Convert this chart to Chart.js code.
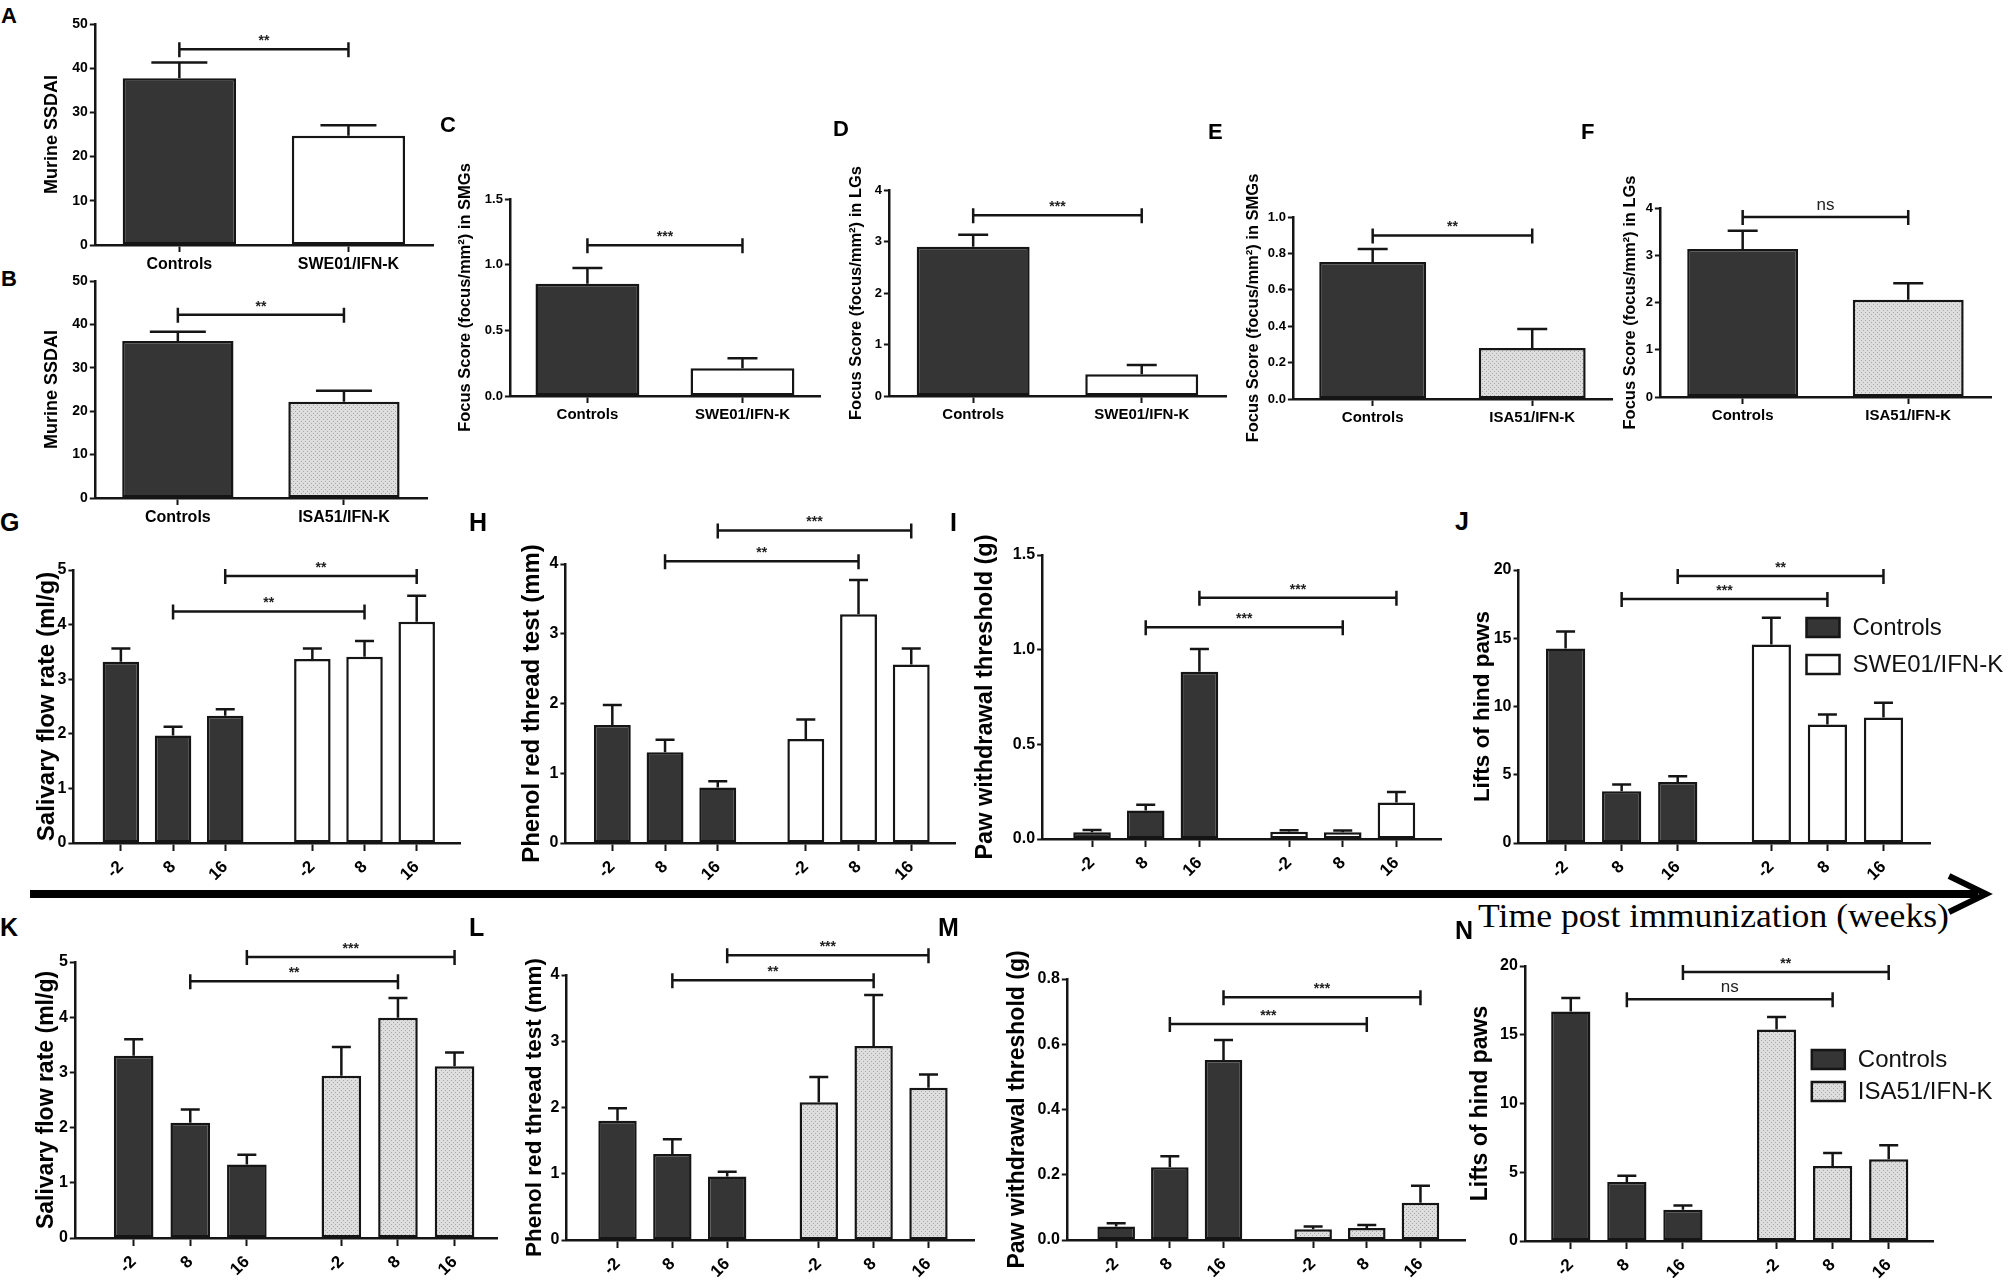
<!DOCTYPE html>
<html>
<head>
<meta charset="utf-8">
<script src="https://cdn.jsdelivr.net/npm/chart.js@4.4.1/dist/chart.umd.min.js"></script>
<style>
  body { margin: 0; background: #fff; width: 2008px; height: 1286px; position: relative; overflow: hidden; }
  canvas { position: absolute; }
  .letter { position: absolute; font-family: "Liberation Sans", Arial, sans-serif; font-weight: bold; line-height: 1; color: #000; }
  #timeLabel { position: absolute; left: 1478px; top: 900px; font: 33px "Liberation Serif", "Times New Roman", serif; line-height: 1; white-space: nowrap; transform-origin: 0 0; }
  #arrow { position: absolute; left: 0; top: 0; }
</style>
</head>
<body>
<svg id="arrow" width="2008" height="1286">
  <line x1="30" y1="894" x2="1978" y2="894" stroke="#000" stroke-width="8"/>
  <polyline points="1949,876 1986,894 1949,912" fill="none" stroke="#000" stroke-width="6"/>
</svg>
<div id="timeLabel">Time post immunization (weeks)</div>

<script>
// ---- categories / series names ----
const groupsSwe = ['Controls', 'SWE01/IFN-K'];
const groupsIsa = ['Controls', 'ISA51/IFN-K'];
const weeks = ['-2', '8', '16'];

// ---- A / B: Murine SSDAI (mean, SEM) ----
const ssdaiSwe = [37.7, 24.7];
const ssdaiSweSem = [3.6, 2.4];
const ssdaiIsa = [36.2, 22.2];
const ssdaiIsaSem = [2.1, 2.5];

// ---- C-F: focus scores ----
const focusSmgSwe = [0.855, 0.211];
const focusSmgSweSem = [0.12, 0.077];
const focusLgSwe = [2.9, 0.42];
const focusLgSweSem = [0.23, 0.18];
const focusSmgIsa = [0.753, 0.28];
const focusSmgIsaSem = [0.071, 0.105];
const focusLgIsa = [3.13, 2.06];
const focusLgIsaSem = [0.39, 0.35];

// ---- G-J: SWE01/IFN-K time course (weeks -2, 8, 16) ----
const flowCtrlG = [3.32, 1.97, 2.33];
const flowCtrlGSem = [0.24, 0.16, 0.12];
const flowSwe = [3.37, 3.41, 4.05];
const flowSweSem = [0.19, 0.29, 0.48];

const phenolCtrlH = [1.69, 1.30, 0.795];
const phenolCtrlHSem = [0.29, 0.18, 0.09];
const phenolSwe = [1.49, 3.28, 2.56];
const phenolSweSem = [0.28, 0.49, 0.23];

const pawCtrlI = [0.035, 0.151, 0.884];
const pawCtrlISem = [0.012, 0.03, 0.12];
const pawSwe = [0.038, 0.036, 0.193];
const pawSweSem = [0.008, 0.009, 0.055];

const liftsCtrlJ = [14.25, 3.79, 4.47];
const liftsCtrlJSem = [1.25, 0.49, 0.42];
const liftsSwe = [14.55, 8.68, 9.19];
const liftsSweSem = [1.95, 0.73, 1.08];

// ---- K-N: ISA51/IFN-K time course ----
const flowCtrlK = [3.30, 2.09, 1.33];
const flowCtrlKSem = [0.30, 0.24, 0.18];
const flowIsa = [2.94, 3.99, 3.11];
const flowIsaSem = [0.52, 0.36, 0.25];

const phenolCtrlL = [1.80, 1.30, 0.96];
const phenolCtrlLSem = [0.19, 0.22, 0.07];
const phenolIsa = [2.08, 2.93, 2.30];
const phenolIsaSem = [0.38, 0.77, 0.20];

const pawCtrlM = [0.041, 0.223, 0.552];
const pawCtrlMSem = [0.01, 0.034, 0.061];
const pawIsa = [0.033, 0.037, 0.114];
const pawIsaSem = [0.008, 0.009, 0.052];

const liftsCtrlN = [16.7, 4.29, 2.28];
const liftsCtrlNSem = [0.97, 0.46, 0.31];
const liftsIsa = [15.39, 5.45, 5.94];
const liftsIsaSem = [0.9, 0.95, 1.02];

// ---- significance brackets: [from bar, to bar, level, label] ----
const sigA = [[0, 1, 44.3, '**']];
const sigB = [[0, 1, 42.2, '**']];
const sigC = [[0, 1, 1.148, '***']];
const sigD = [[0, 1, 3.51, '***']];
const sigE = [[0, 1, 0.899, '**']];
const sigF = [[0, 1, 3.81, 'ns']];
const sigG = [[1, 4, 4.24, '**'], [2, 5, 4.89, '**']];
const sigH = [[1, 4, 4.04, '**'], [2, 5, 4.48, '***']];
const sigI = [[1, 4, 1.118, '***'], [2, 5, 1.274, '***']];
const sigJ = [[1, 4, 17.87, '***'], [2, 5, 19.56, '**']];
const sigK = [[1, 4, 4.65, '**'], [2, 5, 5.09, '***']];
const sigL = [[1, 4, 3.92, '**'], [2, 5, 4.30, '***']];
const sigM = [[1, 4, 0.662, '***'], [2, 5, 0.744, '***']];
const sigN = [[1, 4, 17.58, 'ns'], [2, 5, 19.56, '**']];

// ---- styling ----
const SANS = '"Liberation Sans", Arial, Helvetica, sans-serif';
const INK = '#151515';
const DARK = '#353535';
const GROUP_STEP = 3.67;

function stipple() {
  const c = document.createElement('canvas');
  c.width = c.height = 4;
  const g = c.getContext('2d');
  g.fillStyle = '#dedede';
  g.fillRect(0, 0, 4, 4);
  g.fillStyle = '#a6a6a6';
  g.fillRect(0, 0, 1, 1);
  g.fillRect(2, 2, 1, 1);
  return g.createPattern(c, 'repeat');
}
const DOTS = stipple();

// error bars (upper SEM only, like Prism)
const errorBars = {
  id: 'errorBars',
  afterDatasetsDraw(chart, args, opts) {
    const ctx = chart.ctx, y = chart.scales.y;
    ctx.save();
    ctx.strokeStyle = INK;
    ctx.lineWidth = 2.5;
    chart.data.datasets.forEach((ds, di) => {
      chart.getDatasetMeta(di).data.forEach((bar, i) => {
        const raw = ds.data[i];
        const v = typeof raw === 'object' ? raw.y : raw;
        const top = y.getPixelForValue(v + ds.sem[i]);
        ctx.beginPath();
        ctx.moveTo(bar.x, bar.y);
        ctx.lineTo(bar.x, top);
        ctx.moveTo(bar.x - opts.cap / 2, top);
        ctx.lineTo(bar.x + opts.cap / 2, top);
        ctx.stroke();
      });
    });
    ctx.restore();
  }
};

// significance brackets
const sigBrackets = {
  id: 'sigBrackets',
  afterDatasetsDraw(chart, args, opts) {
    const ctx = chart.ctx, y = chart.scales.y;
    const bars = [];
    chart.data.datasets.forEach((ds, di) => chart.getDatasetMeta(di).data.forEach(b => bars.push(b)));
    ctx.save();
    ctx.strokeStyle = INK;
    ctx.fillStyle = '#222';
    ctx.lineWidth = 2.5;
    ctx.textAlign = 'center';
    ctx.textBaseline = 'bottom';
    (opts.list || []).forEach(([a, b, level, label]) => {
      const x1 = bars[a].x, x2 = bars[b].x, py = y.getPixelForValue(level);
      ctx.beginPath();
      ctx.moveTo(x1, py); ctx.lineTo(x2, py);
      ctx.moveTo(x1, py - 7); ctx.lineTo(x1, py + 8);
      ctx.moveTo(x2, py - 7); ctx.lineTo(x2, py + 8);
      ctx.stroke();
      ctx.font = label === 'ns' ? '17px ' + SANS : 'bold 14px ' + SANS;
      ctx.fillText(label, (x1 + x2) / 2, py - (label === 'ns' ? 3 : 1));
    });
    ctx.restore();
  }
};

// boxed legend drawn inside the plot (J, N)
const boxLegend = {
  id: 'boxLegend',
  afterDraw(chart, args, opts) {
    if (!opts.show) return;
    const ctx = chart.ctx, area = chart.chartArea;
    ctx.save();
    ctx.font = '24px ' + SANS;
    ctx.textBaseline = 'middle';
    chart.data.datasets.forEach((ds, i) => {
      const bx = area.left + opts.dx, by = area.top + opts.dy + i * opts.row;
      ctx.fillStyle = ds.backgroundColor;
      ctx.fillRect(bx, by, 33, 19);
      ctx.strokeStyle = INK;
      ctx.lineWidth = 2.5;
      ctx.strokeRect(bx, by, 33, 19);
      ctx.fillStyle = '#111';
      ctx.fillText(ds.label, bx + 46, by + 10);
    });
    ctx.restore();
  }
};

function drawPanel(p) {
  const [l, t, r, b] = p.rect;
  const W = p.titleGap + p.titleSize * 0.6;
  const T = 60, R = p.right || 12, B = p.bottom;
  const w = Math.round(W + r - l + R), h = Math.round(T + b - t + B);
  const cv = document.createElement('canvas');
  cv.width = w; cv.height = h;
  Object.assign(cv.style, { left: (l - W) + 'px', top: (t - T) + 'px', width: w + 'px', height: h + 'px' });
  document.body.appendChild(cv);

  const axisLine = { display: true, color: INK, width: 2.5 };
  let labels, datasets, x;
  if (p.series) {
    const pos = [];
    p.series.forEach((s, g) => weeks.forEach((wk, i) => pos.push(g * GROUP_STEP + i)));
    datasets = p.series.map((name, g) => ({
      label: name,
      data: p.values[g].map((v, i) => ({ x: g * GROUP_STEP + i, y: v })),
      sem: p.sems[g],
      backgroundColor: p.fills[g],
      borderColor: INK, borderWidth: 2.5, borderSkipped: false,
      grouped: false, barPercentage: 0.7, categoryPercentage: 1
    }));
    x = {
      type: 'linear', min: p.xMin, max: p.xMax, offset: false,
      afterBuildTicks: s => { s.ticks = pos.map(v => ({ value: v })); },
      ticks: { callback: (v, i) => weeks[i % weeks.length], minRotation: 45, maxRotation: 45, autoSkip: false,
               padding: 6, color: '#000', font: { family: SANS, weight: 'bold', size: 17 } },
      grid: { display: true, drawOnChartArea: false, offset: false, tickLength: 8, tickWidth: 2, tickColor: INK },
      border: axisLine,
      afterFit: s => { s.height = 70; }
    };
  } else {
    labels = p.groups;
    datasets = [{
      label: p.title, data: p.values, sem: p.sems, backgroundColor: p.fills,
      borderColor: INK, borderWidth: 2.5, borderSkipped: false,
      barPercentage: 0.67, categoryPercentage: 1
    }];
    x = {
      type: 'category', offset: true,
      ticks: { maxRotation: 0, autoSkip: false, padding: 3, color: '#000', font: { family: SANS, weight: 'bold', size: p.catSize } },
      grid: { display: true, drawOnChartArea: false, offset: false, tickLength: 7, tickWidth: 2, tickColor: INK },
      border: axisLine,
      afterFit: s => { s.height = 40; }
    };
  }

  new Chart(cv, {
    type: 'bar',
    data: { labels, datasets },
    options: {
      responsive: false, animation: false, devicePixelRatio: 1, events: [],
      layout: { padding: { top: T, right: R, left: 0, bottom: B - (p.series ? 70 : 40) } },
      plugins: {
        legend: { display: false }, tooltip: { enabled: false },
        errorBars: { cap: p.cap },
        sigBrackets: { list: p.sig },
        boxLegend: p.legend || { show: false }
      },
      scales: {
        x,
        y: {
          min: 0, max: p.yMax,
          ticks: { stepSize: p.yStep, padding: 2, color: '#000',
                   font: { family: SANS, weight: 'bold', size: p.tickSize },
                   callback: v => Number(v).toFixed(p.dec) },
          grid: { display: true, drawOnChartArea: false, tickLength: 5, tickWidth: 2, tickColor: INK },
          border: axisLine,
          title: { display: true, text: p.title, color: '#000', padding: 0,
                   font: { family: SANS, weight: 'bold', size: p.titleSize } },
          afterFit: s => { s.width = W; }
        }
      }
    },
    plugins: [errorBars, sigBrackets, boxLegend]
  });
}

const top2 = { bottom: 70, cap: 30, tickSize: 13, catSize: 15, titleSize: 16.5 };
const low = { bottom: 70, cap: 19, tickSize: 16, xMax: 6.5 };

const panels = [
  { ...top2, rect: [95, 24, 433, 245], groups: groupsSwe, values: ssdaiSwe, sems: ssdaiSweSem, fills: [DARK, '#fff'],
    yMax: 50, yStep: 10, dec: 0, title: 'Murine SSDAI', titleSize: 18, titleGap: 43, tickSize: 14, catSize: 16, cap: 56, sig: sigA },
  { ...top2, rect: [95, 281, 427, 498], groups: groupsIsa, values: ssdaiIsa, sems: ssdaiIsaSem, fills: [DARK, DOTS],
    yMax: 50, yStep: 10, dec: 0, title: 'Murine SSDAI', titleSize: 18, titleGap: 43, tickSize: 14, catSize: 16, cap: 56, sig: sigB },
  { ...top2, rect: [510, 199, 820, 396], groups: groupsSwe, values: focusSmgSwe, sems: focusSmgSweSem, fills: [DARK, '#fff'],
    yMax: 1.5, yStep: 0.5, dec: 1, title: 'Focus Score (focus/mm²) in SMGs', titleGap: 44, sig: sigC },
  { ...top2, rect: [889, 190, 1226, 396], groups: groupsSwe, values: focusLgSwe, sems: focusLgSweSem, fills: [DARK, '#fff'],
    yMax: 4, yStep: 1, dec: 0, title: 'Focus Score (focus/mm²) in LGs', titleGap: 32, sig: sigD },
  { ...top2, rect: [1293, 217, 1612, 399], groups: groupsIsa, values: focusSmgIsa, sems: focusSmgIsaSem, fills: [DARK, DOTS],
    yMax: 1.0, yStep: 0.2, dec: 1, title: 'Focus Score (focus/mm²) in SMGs', titleGap: 39, sig: sigE },
  { ...top2, rect: [1660, 208, 1991, 397], groups: groupsIsa, values: focusLgIsa, sems: focusLgIsaSem, fills: [DARK, DOTS],
    yMax: 4, yStep: 1, dec: 0, title: 'Focus Score (focus/mm²) in LGs', titleGap: 29, right: 12, sig: sigF },

  { ...low, rect: [73, 570, 460, 843], series: groupsSwe, values: [flowCtrlG, flowSwe], sems: [flowCtrlGSem, flowSweSem], fills: [DARK, '#fff'],
    xMin: -0.91, yMax: 5, yStep: 1, dec: 0, title: 'Salivary flow rate (ml/g)', titleSize: 24, titleGap: 26, sig: sigG },
  { ...low, rect: [565, 564, 955, 843], series: groupsSwe, values: [phenolCtrlH, phenolSwe], sems: [phenolCtrlHSem, phenolSweSem], fills: [DARK, '#fff'],
    xMin: -0.89, yMax: 4, yStep: 1, dec: 0, title: 'Phenol red thread test (mm)', titleSize: 24, titleGap: 33, sig: sigH },
  { ...low, rect: [1042, 555, 1441, 839], series: groupsSwe, values: [pawCtrlI, pawSwe], sems: [pawCtrlISem, pawSweSem], fills: [DARK, '#fff'],
    xMin: -0.93, yMax: 1.5, yStep: 0.5, dec: 1, title: 'Paw withdrawal threshold (g)', titleSize: 23.5, titleGap: 57, sig: sigI },
  { ...low, rect: [1518, 570, 1929, 843], series: groupsSwe, values: [liftsCtrlJ, liftsSwe], sems: [liftsCtrlJSem, liftsSweSem], fills: [DARK, '#fff'],
    xMin: -0.84, yMax: 20, yStep: 5, dec: 0, title: 'Lifts of hind paws', titleSize: 22.5, titleGap: 36, right: 79, sig: sigJ,
    legend: { show: true, dx: 288, dy: 48, row: 37 } },

  { ...low, rect: [75, 962, 497, 1238], series: groupsIsa, values: [flowCtrlK, flowIsa], sems: [flowCtrlKSem, flowIsaSem], fills: [DARK, DOTS],
    xMin: -1.04, xMax: 6.42, yMax: 5, yStep: 1, dec: 0, title: 'Salivary flow rate (ml/g)', titleSize: 23, titleGap: 28, sig: sigK },
  { ...low, rect: [566, 975, 973, 1240], series: groupsIsa, values: [phenolCtrlL, phenolIsa], sems: [phenolCtrlLSem, phenolIsaSem], fills: [DARK, DOTS],
    xMin: -0.93, yMax: 4, yStep: 1, dec: 0, title: 'Phenol red thread test (mm)', titleSize: 22.5, titleGap: 32, sig: sigL },
  { ...low, rect: [1067, 979, 1465, 1240], series: groupsIsa, values: [pawCtrlM, pawIsa], sems: [pawCtrlMSem, pawIsaSem], fills: [DARK, DOTS],
    xMin: -0.92, yMax: 0.8, yStep: 0.2, dec: 1, title: 'Paw withdrawal threshold (g)', titleSize: 23, titleGap: 49, sig: sigM },
  { ...low, rect: [1525, 966, 1933, 1241], series: groupsIsa, values: [liftsCtrlN, liftsIsa], sems: [liftsCtrlNSem, liftsIsaSem], fills: [DARK, DOTS],
    xMin: -0.82, xMax: 6.46, yMax: 20, yStep: 5, dec: 0, title: 'Lifts of hind paws', titleSize: 23, titleGap: 44, right: 75, sig: sigN,
    legend: { show: true, dx: 287, dy: 84, row: 32 } }
];

panels.forEach(drawPanel);

// panel letters
const letters = [
  ['A', 1, 5, 22], ['B', 1, 268, 22], ['C', 440, 114, 22], ['D', 833, 118, 22], ['E', 1208, 121, 22], ['F', 1581, 121, 22],
  ['G', 0, 510, 25], ['H', 469, 510, 25], ['I', 950, 510, 25], ['J', 1455, 509, 25],
  ['K', 0, 915, 25], ['L', 469, 915, 25], ['M', 938, 915, 25], ['N', 1455, 918, 25]
];
letters.forEach(([txt, lx, ly, size]) => {
  const d = document.createElement('div');
  d.className = 'letter';
  d.textContent = txt;
  Object.assign(d.style, { left: lx + 'px', top: ly + 'px', fontSize: size + 'px' });
  document.body.appendChild(d);
});

// stretch the time caption to the width it has in the figure
const tl = document.getElementById('timeLabel');
tl.style.transform = 'scaleX(' + (471 / tl.offsetWidth) + ')';
</script>
</body>
</html>
